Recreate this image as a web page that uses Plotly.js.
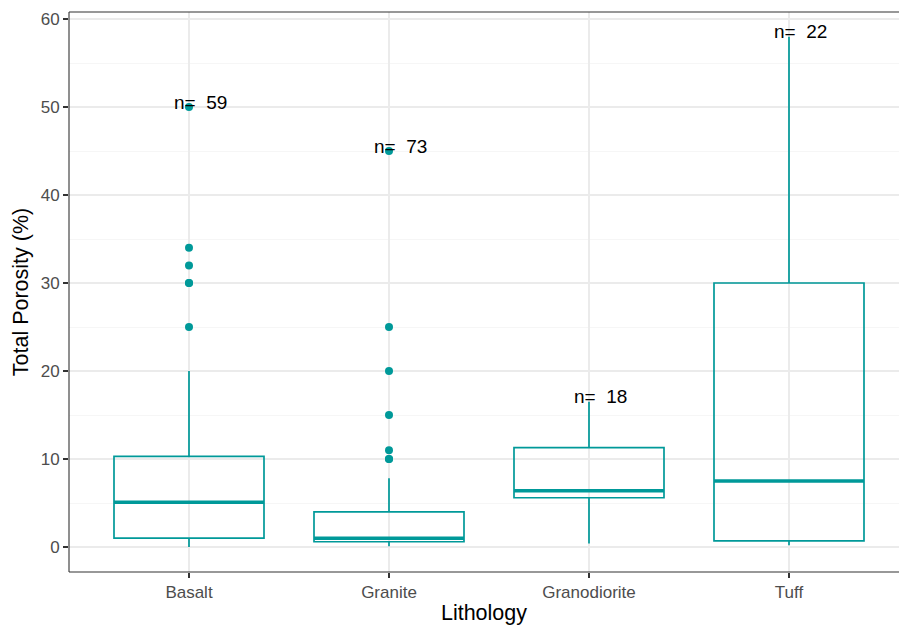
<!DOCTYPE html>
<html>
<head>
<meta charset="utf-8">
<script src="https://cdn.plot.ly/plotly-3.0.1.min.js"></script>
<style>html,body{margin:0;padding:0;background:#fff;}#chart{width:899px;height:625px;}</style>
</head>
<body>
<div id="chart"></div>
<script>
// Data
const categories = ["Basalt", "Granite", "Granodiorite", "Tuff"];
const lowerFence = [0.0, 0.1, 0.4, 0.2];
const q1 = [1.0, 0.6, 5.6, 0.7];
const medians = [5.1, 1.0, 6.4, 7.5];
const q3 = [10.3, 4.0, 11.3, 30.0];
const upperFence = [20.0, 7.8, 16.5, 58.0];
const basaltOutliers = [25, 30, 30, 32, 34, 50];
const graniteOutliers = [10, 10, 11, 15, 20, 25, 45];
const granodioriteOutliers = [];
const tuffOutliers = [];
const nCounts = [59, 73, 18, 22];
const yTicks = [0, 10, 20, 30, 40, 50, 60];

const teal = "#009999";
const outlierSets = [basaltOutliers, graniteOutliers, granodioriteOutliers, tuffOutliers];

const boxTrace = {
  type: "box",
  x: categories,
  q1: q1,
  median: medians,
  q3: q3,
  lowerfence: lowerFence,
  upperfence: upperFence,
  width: 0.75,
  whiskerwidth: 0,
  boxpoints: false,
  line: {color: teal, width: 1.7},
  fillcolor: "rgba(255,255,255,0)",
  hoverinfo: "skip",
  showlegend: false
};

const outX = [], outY = [];
outlierSets.forEach((arr, i) => arr.forEach(v => { outX.push(categories[i]); outY.push(v); }));
const outlierTrace = {
  type: "scatter", mode: "markers",
  x: outX, y: outY,
  marker: {color: teal, size: 8},
  hoverinfo: "skip", showlegend: false
};

// thick median lines (from median data)
const shapes = medians.map((m, i) => ({
  type: "line", xref: "x", yref: "y",
  x0: i - 0.375, x1: i + 0.375, y0: m, y1: m,
  line: {color: teal, width: 3.5}, layer: "above"
}));
// panel border: left, bottom, top (right edge runs past the picture)
const border = {color: "#333333", width: 1.1};
shapes.push({type: "line", xref: "paper", yref: "paper", x0: 0, x1: 0, y0: 0, y1: 1, line: border, layer: "above"});
shapes.push({type: "line", xref: "paper", yref: "paper", x0: 0, x1: 1.05, y0: 0, y1: 0, line: border, layer: "above"});
shapes.push({type: "line", xref: "paper", yref: "paper", x0: 0, x1: 1.05, y0: 1, y1: 1, line: border, layer: "above"});

const annotations = categories.map((c, i) => {
  const top = Math.max(upperFence[i], ...outlierSets[i]);
  return {
    x: c, y: top, xref: "x", yref: "y",
    text: "n=\u00a0\u00a0" + nCounts[i],
    showarrow: false, xanchor: "center", yanchor: "middle",
    xshift: 11, yshift: 5,
    font: {family: "Liberation Sans, Arial, sans-serif", size: 19, color: "#000000"}
  };
});

const layout = {
  width: 899, height: 625,
  margin: {l: 69, r: 0, t: 12, b: 53},
  paper_bgcolor: "#ffffff", plot_bgcolor: "#ffffff",
  font: {family: "Liberation Sans, Arial, sans-serif"},
  xaxis: {
    type: "category",
    categoryorder: "array", categoryarray: categories,
    range: [-0.6, 3.55],
    showgrid: true, gridcolor: "#EBEBEB", gridwidth: 1.2,
    zeroline: false, showline: false,
    ticks: "outside", ticklen: 5, tickwidth: 1.1, tickcolor: "#333333",
    tickfont: {size: 17, color: "#4D4D4D"},
    title: {text: "Lithology", font: {size: 21.5, color: "#000000"}, standoff: 5},
    fixedrange: true
  },
  yaxis: {
    range: [-2.84, 60.8],
    tickvals: yTicks, ticktext: yTicks.map(String),
    showgrid: true, gridcolor: "#EBEBEB", gridwidth: 1.2,
    minor: {dtick: 5, tick0: 5, showgrid: true, gridcolor: "#F0F0F0", gridwidth: 0.6, ticks: ""},
    zeroline: false, showline: false,
    ticks: "outside", ticklen: 5, tickwidth: 1.1, tickcolor: "#333333",
    tickfont: {size: 17, color: "#4D4D4D"},
    title: {text: "Total Porosity (%)", font: {size: 21.5, color: "#000000"}, standoff: 6},
    fixedrange: true
  },
  shapes: shapes,
  annotations: annotations,
  showlegend: false
};

Plotly.newPlot("chart", [boxTrace, outlierTrace], layout, {displayModeBar: false, staticPlot: true});
</script>
</body>
</html>
